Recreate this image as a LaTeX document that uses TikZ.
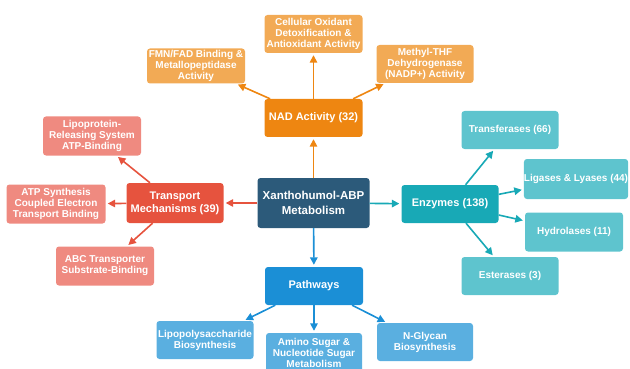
\documentclass[tikz,border=0pt]{standalone}
\usepackage{fontspec}
\setmainfont{Liberation Sans}
\usetikzlibrary{arrows.meta}
\definecolor{cmain}{HTML}{2C5A7A}
\definecolor{cnad}{HTML}{EE8611}
\definecolor{cnadl}{HTML}{F2AA55}
\definecolor{ctr}{HTML}{E6533E}
\definecolor{ctrl}{HTML}{EF8A80}
\definecolor{cenz}{HTML}{18A9B6}
\definecolor{cenzl}{HTML}{5EC4CE}
\definecolor{cpw}{HTML}{1B8FD6}
\definecolor{cpwl}{HTML}{5AAFE0}
\tikzset{
  box/.style={rectangle, rounded corners=3pt, inner sep=0pt, align=center, text=white, font=\bfseries\fontsize{10}{11}\selectfont},
  catbox/.style={box, font=\bfseries\fontsize{11}{13}\selectfont},
  mainbox/.style={box, font=\bfseries\fontsize{11.5}{15}\selectfont},
  conn/.style={line width=1.6pt, -{Triangle[length=7.5pt,width=7.5pt]}, shorten >=2pt},
}
\begin{document}
\begin{tikzpicture}[x=1pt,y=-1pt]
\useasboundingbox (0,0) rectangle (630,369);
\clip (0,0) rectangle (630,369);
% center
\node[mainbox, fill=cmain, minimum width=112pt, minimum height=50pt] (main) at (313.5,203) {Xanthohumol-ABP\\Metabolism};
% NAD
\node[catbox, fill=cnad, minimum width=98pt, minimum height=38pt] (nad) at (313.5,118) {NAD Activity (32)};
\node[box, fill=cnadl, minimum width=98pt, minimum height=38pt] (cell) at (313.5,34) {Cellular Oxidant\\Detoxification \&\\Antioxidant Activity};
\node[box, fill=cnadl, minimum width=98pt, minimum height=35pt] (fmn) at (196,66) {FMN/FAD Binding \&\\Metallopeptidase\\Activity};
\node[box, fill=cnadl, minimum width=97pt, minimum height=38pt] (meth) at (425,64) {Methyl-THF\\Dehydrogenase\\(NADP+) Activity};
% Transport
\node[catbox, fill=ctr, minimum width=97pt, minimum height=40pt] (tr) at (175,203) {Transport\\Mechanisms (39)};
\node[box, fill=ctrl, minimum width=98pt, minimum height=39pt] (lipo) at (92,136) {Lipoprotein-\\Releasing System\\ATP-Binding};
\node[box, fill=ctrl, minimum width=99pt, minimum height=39pt] (atp) at (56,204) {ATP Synthesis\\Coupled Electron\\Transport Binding};
\node[box, fill=ctrl, minimum width=98pt, minimum height=39pt] (abc) at (105,266) {ABC Transporter\\Substrate-Binding};
% Pathways
\node[catbox, fill=cpw, minimum width=98pt, minimum height=38pt] (pw) at (314,286) {Pathways};
\node[box, fill=cpwl, minimum width=97pt, minimum height=38pt] (lps) at (205,340) {Lipopolysaccharide\\Biosynthesis};
\node[box, fill=cpwl, minimum width=96pt, minimum height=40pt] (amino) at (314,353) {Amino Sugar \&\\Nucleotide Sugar\\Metabolism};
\node[box, fill=cpwl, minimum width=96pt, minimum height=38pt] (ngly) at (425,342) {N-Glycan\\Biosynthesis};
% Enzymes
\node[catbox, fill=cenz, minimum width=97pt, minimum height=38pt] (enz) at (450,204) {Enzymes (138)};
\node[box, fill=cenzl, minimum width=97pt, minimum height=38pt] (transf) at (510,130) {Transferases (66)};
\node[box, fill=cenzl, minimum width=101pt, minimum height=40pt] (lig) at (576,179) {Ligases \& Lyases (44)};
\node[box, fill=cenzl, minimum width=98pt, minimum height=39pt] (hyd) at (574,232) {Hydrolases (11)};
\node[box, fill=cenzl, minimum width=97pt, minimum height=38pt] (est) at (510,276) {Esterases (3)};
% connectors
\draw[conn, cnad] (main) -- (nad);
\draw[conn, cnad] (nad) -- (cell);
\draw[conn, cnad] (nad) -- (fmn);
\draw[conn, cnad] (nad) -- (meth);
\draw[conn, ctr] (main) -- (tr);
\draw[conn, ctr] (tr) -- (lipo);
\draw[conn, ctr] (tr) -- (atp);
\draw[conn, ctr] (tr) -- (abc);
\draw[conn, cpw] (main) -- (pw);
\draw[conn, cpw] (pw) -- (lps);
\draw[conn, cpw] (pw) -- (amino);
\draw[conn, cpw] (pw) -- (ngly);
\draw[conn, cenz] (main) -- (enz);
\draw[conn, cenz] (enz) -- (transf);
\draw[conn, cenz] (enz) -- (lig);
\draw[conn, cenz] (enz) -- (hyd);
\draw[conn, cenz] (enz) -- (est);
\end{tikzpicture}
\end{document}
